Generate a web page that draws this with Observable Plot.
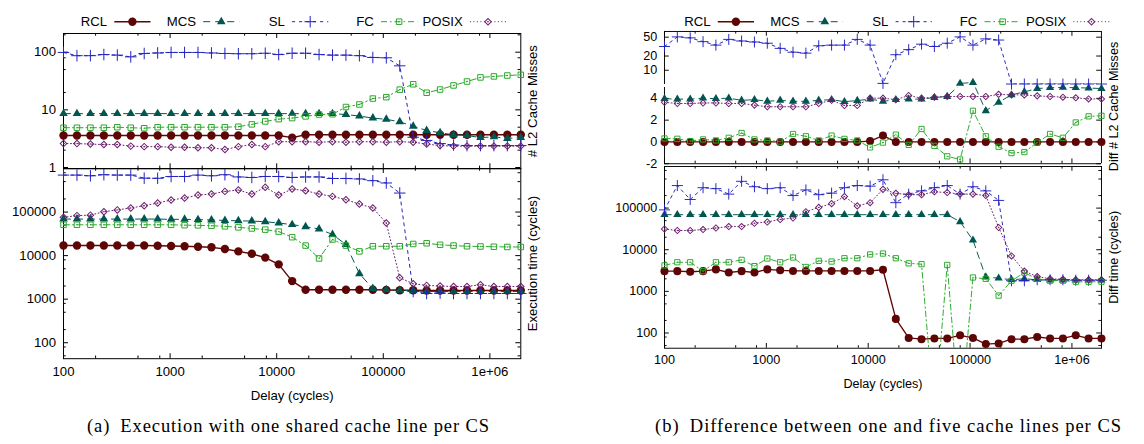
<!DOCTYPE html>
<html>
<head>
<meta charset="utf-8">
<script src="https://cdn.jsdelivr.net/npm/d3@7"></script>
<script src="https://cdn.jsdelivr.net/npm/@observablehq/plot@0.6"></script>
<style>
  html, body { margin: 0; padding: 0; background: #fff; }
  #root { position: relative; width: 1144px; height: 444px; overflow: hidden; background: #fff;
          font-family: "Liberation Sans", Arial, Helvetica, sans-serif; }
  .panel { position: absolute; }
  .panel svg { overflow: visible; display: block; }
  #overlay { position: absolute; left: 0; top: 0; }
</style>
</head>
<body>
<div id="root"></div>
<script>
// ------------------------------------------------------------------ data
const delays = [100, 133.7, 178.8, 239.1, 319.7, 427.5, 571.5, 764.1, 1022, 1367, 1827, 2444, 3268, 4370, 5843, 7809,
  10442, 13964, 18671, 24966, 33384, 44637, 59689, 79799, 106710, 142690, 190800, 255150, 341200, 456200, 610100,
  815700, 1090500, 1458100, 1949800];

const seriesNames = ["RCL", "MCS", "SL", "FC", "POSIX"];

// (a) top: # L2 cache misses
const rclMisses = [3.6,3.6,3.6,3.6,3.6,3.6,3.6,3.6,3.6,3.6,3.6,3.6,3.6,3.6,3.6,3.6,3.6,3.3,3.7,3.7,3.7,3.7,3.7,3.7,3.7,3.7,3.7,3.7,3.7,3.7,3.7,3.7,3.7,3.7,3.7];
const mcsMisses = [8.6,8.6,8.6,8.6,8.6,8.6,8.6,8.6,8.6,8.6,8.6,8.6,8.6,8.6,8.6,8.6,8.6,8.6,8.6,8.6,8.6,8.3,7.8,7.2,6.85,6.2,5.2,4.4,4.0,3.7,3.6,3.3,3.4,3.2,3.3];
const slMisses = [99,87,87,91,89,83,95,97,99,99,99,97,95,94,94,96,91,96,96,91,89,89,87,81,80,58,3.35,2.95,2.6,2.45,2.4,2.4,2.4,2.4,2.4];
const fcMisses = [4.9,4.9,4.9,4.9,5.0,4.9,4.8,5.0,5.0,5.0,5.0,5.0,5.0,5.1,5.6,6.3,6.9,7.2,7.7,8.3,8.4,11.2,12.4,15.7,16.6,22.4,27.8,19.8,22.5,26.5,31,36.5,38,39.4,40.5];
const posixMisses = [2.6,2.6,2.55,2.5,2.5,2.35,2.3,2.3,2.25,2.25,2.2,2.2,2.05,2.3,2.5,2.3,2.8,2.8,2.8,2.75,2.8,2.75,2.8,2.8,2.75,2.8,2.75,2.55,2.4,2.35,2.35,2.35,2.35,2.35,2.35];

// (a) bottom: execution time (cycles)
const rclTime = [17000,17000,17000,17000,17000,17000,17000,16800,16600,16400,16000,15500,14200,12500,11000,9000,6300,2600,1650,1650,1650,1650,1650,1650,1620,1600,1600,1580,1580,1580,1580,1580,1580,1580,1580];
const mcsTime = [69000,69000,69000,69000,69000,69000,69000,69000,68000,68000,67000,66000,64000,63000,62000,60000,56000,51500,46000,41000,30500,18000,3850,1750,1650,1600,1550,1500,1500,1500,1500,1500,1500,1500,1500];
const slTime = [706000,706000,680000,720000,706000,706000,600000,596000,656000,656000,706000,680000,720000,640000,622000,656000,656000,622000,640000,640000,590000,590000,575000,525000,465000,273000,1500,1350,1380,1350,1350,1350,1350,1350,1350];
const fcTime = [51000,51000,51000,51000,51000,51000,51000,51000,51000,50000,49500,48500,47000,44500,42000,39500,35600,26500,17000,8600,23500,17000,12500,16400,16400,16400,18500,19200,17700,17000,16400,16200,16000,15800,15800];
const posixTime = [75700,82800,85000,102000,112000,124000,140000,161000,189000,210000,246000,259000,298000,320000,259000,370000,246000,337000,309000,259000,229000,192000,153000,124000,56000,3100,2260,2070,2000,1950,1950,2150,1950,1950,1950];

// (b) top: diff # L2 cache misses
const rclDiffMisses = [0,0,0,0,0,0,0,0,0,0,0,0,0,0,0,0,0.08,0.58,0,0,0,0,0,0,0,0,0,0,0,0,0,0,0,0,0];
const mcsDiffMisses = [3.97,3.93,3.93,4.02,3.97,4.02,3.82,3.88,3.73,3.82,3.73,3.73,3.82,3.88,3.7,3.8,3.93,3.73,3.88,3.93,3.93,4.08,4.17,5.28,5.5,2.86,3.64,4.32,4.6,4.9,4.98,5.0,4.98,4.95,4.9];
const slDiffMisses = [31.8,50.7,48.4,40.2,34,44.9,41.5,39.6,37.3,29,24.1,23,32.9,34,34,44.9,34,5.28,21.3,27.3,35.6,31.8,37.3,50.7,34,46,43.5,5.12,5.12,5.12,5.12,5.12,5.12,5.12,5.12];
const fcDiffMisses = [0.32,0.29,0.08,0.23,0.14,0.38,0.82,0.23,0.14,0.03,0.73,0.52,0.14,0.58,0.28,0.14,-0.5,-0.06,0.67,-0.27,1.19,-0.36,-1.32,-1.61,2.86,0.52,-0.44,-1.02,-0.93,-0.06,0.73,0.38,1.79,2.35,2.4];
const posixDiffMisses = [3.64,3.53,3.53,3.58,3.58,3.53,3.53,3.38,3.23,3.23,3.23,3.23,3.53,3.82,3.35,3.35,4.02,4.02,3.88,4.26,4.02,4.11,4.17,4.17,4.17,4.17,4.37,4.32,4.32,4.23,4.17,4.11,4.05,3.95,3.95];

// (b) bottom: diff time (cycles)
const rclDiffTime = [3060,3060,2950,3060,3370,2840,3060,2840,3370,3200,3100,3100,3100,3100,3100,3100,3100,3300,218,76,71,74,74,88,76,54,56,71,71,80,74,74,88,74,74];
const mcsDiffTime = [69500,69500,69500,69500,69500,69500,69500,69500,69500,69500,69500,69500,69500,69500,69500,69500,69500,69500,69500,69500,69500,69500,69500,47000,17000,2200,2070,1900,2000,1900,1850,1850,1850,1850,1850];
const slDiffTime = [90600,348000,161000,309000,293000,217000,440000,326000,293000,309000,200000,273000,210000,229000,309000,348000,337000,479000,135000,217000,259000,309000,348000,217000,326000,259000,153000,1800,1800,1900,1900,1900,1850,1850,1850];
const fcDiffTime = [4200,5000,5000,3060,5000,5000,5700,4040,6150,5000,6500,3850,5400,5200,6250,6250,7700,8100,6250,4700,4500,1,4300,0.7,2150,2000,790,1800,2800,2000,1800,1800,1700,1700,1700];
const posixDiffTime = [31500,29000,29000,30500,33200,36000,36000,43400,46500,53300,57800,82000,104000,128000,189000,113000,135000,282000,226000,210000,210000,246000,237000,217000,217000,200000,34300,7100,3060,2260,2000,1950,1900,1900,1900];

// ticks
const xMajor = [100, 1000, 10000, 100000, 1000000];
const xLabels = ["100", "1000", "10000", "100000", "1e+06"];
const xMinor = [200, 500, 800, 2000, 5000, 8000, 20000, 50000, 80000, 200000, 500000, 800000];
const missMajor = [1, 10, 100];
const missLabels = ["1", "10", "100"];
const missMinor = [2, 5, 8, 20, 50, 80, 200];
const timeMajor = [100, 1000, 10000, 100000];
const timeLabels = ["100", "1000", "10000", "100000"];
const timeMinor = [50, 80, 200, 500, 800, 2000, 5000, 8000, 20000, 50000, 80000, 200000, 500000, 800000];
const diffLinTicks = [-2, 0, 2, 4];
const diffLinLabels = ["-2", "0", "2", "4"];
const diffLogTicks = [10, 20, 50];
const diffLogLabels = ["10", "20", "50"];

// ------------------------------------------------------------------ styles
const FONT = '"Liberation Sans", Arial, Helvetica, sans-serif';
const FS = 13.2;
const seriesStyles = {
  RCL:   {color: "#5e0505", dash: null,        symbol: "circle",   r: 4.2, filled: true,  width: 1.4},
  MCS:   {color: "#00574f", dash: "7,5",       symbol: "triangle", r: 3.2, filled: true,  width: 1},
  SL:    {color: "#2222bf", dash: "3,4",       symbol: "plus",     r: 3.8, filled: false, width: 1},
  FC:    {color: "#28a828", dash: "6,3,1.5,3", symbol: "square",   r: 3.1, filled: false, width: 1, center: true},
  POSIX: {color: "#6c1f6c", dash: "1,2.5",     symbol: "square",   r: 2.6, filled: false, width: 1, center: true, rotate: 45}
};

const M = 45;
const root = document.getElementById("root");
const xDomain = [100, 1949800];

function seriesMarks(values, names, dotOk) {
  const marks = [];
  for (const name of names) {
    const s = seriesStyles[name];
    const rows = delays.map((x, i) => ({x, v: values[name][i]}));
    marks.push(Plot.line(rows, {x: "x", y: "v", stroke: s.color, strokeWidth: s.width,
      strokeDasharray: s.dash || undefined, clip: true}));
    const pts = rows.filter(d => dotOk(d.v));
    marks.push(Plot.dot(pts, {x: "x", y: "v", symbol: s.symbol, r: s.r, rotate: s.rotate || 0,
      fill: s.filled ? s.color : "none", stroke: s.filled ? "none" : s.color, strokeWidth: 1}));
    if (s.center) marks.push(Plot.dot(pts, {x: "x", y: "v", r: 0.7, fill: s.color, stroke: "none"}));
  }
  return marks;
}

function xTicks(h, where) {
  const key = where === "bottom" ? "insetTop" : "insetBottom";
  return [
    Plot.tickX(xMajor, {x: d => d, [key]: h - 5, stroke: "#000"}),
    Plot.tickX(xMinor, {x: d => d, [key]: h - 2.7, stroke: "#000"})
  ];
}
function yTicks(w, vals, len) {
  return [
    Plot.tickY(vals, {y: d => d, insetRight: w - len, stroke: "#000"}),
    Plot.tickY(vals, {y: d => d, insetLeft: w - len, stroke: "#000"})
  ];
}
function yLabelMarks(vals, labels) {
  return Plot.text(vals, {y: d => d, text: (d, i) => labels[i], frameAnchor: "left", textAnchor: "end",
    dx: -7.5, fontSize: FS, fill: "#000"});
}
function xLabelMarks() {
  return [
    Plot.text(xMajor, {x: d => d, text: (d, i) => xLabels[i], frameAnchor: "bottom", dy: 17, fontSize: FS, fill: "#000"}),
    Plot.text(["Delay (cycles)"], {text: d => d, frameAnchor: "bottom", dy: 41.5, fontSize: FS, fill: "#000"})
  ];
}
function sideLabel(label, dx, dy) {
  return Plot.text([label], {text: d => d, frameAnchor: "right", textAnchor: "middle", lineAnchor: "middle",
    rotate: -90, dx, dy: dy || 0, fontSize: FS, fill: "#000"});
}

function plotPanel({left, top, w, h, y, marks}) {
  const svg = Plot.plot({
    width: w + 2 * M, height: h + 2 * M, margin: M,
    x: {type: "log", domain: xDomain, axis: null},
    y: {...y, axis: null},
    style: {background: "transparent", overflow: "visible", fontFamily: FONT, color: "#000"},
    marks
  });
  const div = document.createElement("div");
  div.className = "panel";
  div.style.left = (left - M) + "px";
  div.style.top = (top - M) + "px";
  div.appendChild(svg);
  root.appendChild(div);
}

// ------------------------------------------------------------------ geometry
const W = 457.3;
const TOP = 33, MID = 168.3, BOT = 358.5, SPLIT = 88.5;
const LEFT_A = 62.5, LEFT_B = 666;
const hTop = MID - TOP, hBot = BOT - MID;

// ---- (a) top
{
  const vals = {RCL: rclMisses, MCS: mcsMisses, SL: slMisses, FC: fcMisses, POSIX: posixMisses};
  const dom = [0.95, 211];
  plotPanel({left: LEFT_A, top: TOP, w: W, h: hTop, y: {type: "log", domain: dom},
    marks: [
      Plot.frame({stroke: "#000"}),
      ...xTicks(hTop, "bottom"), ...xTicks(hTop, "top"),
      ...yTicks(W, missMajor, 5), ...yTicks(W, missMinor, 2.7),
      yLabelMarks(missMajor, missLabels),
      sideLabel("# L2 Cache Misses", 12),
      ...seriesMarks(vals, seriesNames, v => v >= dom[0] && v <= dom[1])
    ]});
}
// ---- (a) bottom
{
  const vals = {RCL: rclTime, MCS: mcsTime, SL: slTime, FC: fcTime, POSIX: posixTime};
  const dom = [43, 1000000];
  plotPanel({left: LEFT_A, top: MID, w: W, h: hBot, y: {type: "log", domain: dom},
    marks: [
      Plot.frame({stroke: "#000"}),
      ...xTicks(hBot, "bottom"), ...xTicks(hBot, "top"),
      ...yTicks(W, timeMajor, 5), ...yTicks(W, timeMinor, 2.7),
      yLabelMarks(timeMajor, timeLabels),
      ...xLabelMarks(),
      sideLabel("Execution time (cycles)", 12),
      ...seriesMarks(vals, seriesNames, v => v >= dom[0] && v <= dom[1])
    ]});
}
// ---- (b) top, lower linear part
{
  const vals = {RCL: rclDiffMisses, MCS: mcsDiffMisses, SL: slDiffMisses, FC: fcDiffMisses, POSIX: posixDiffMisses};
  const h = MID - SPLIT;
  plotPanel({left: LEFT_B, top: SPLIT, w: W, h, y: {type: "linear", domain: [-2, 5]},
    marks: [
      Plot.ruleY([-2], {stroke: "#000"}),
      Plot.ruleX([xDomain[0], xDomain[1]], {stroke: "#000"}),
      ...xTicks(h, "bottom"),
      ...yTicks(W, diffLinTicks, 5),
      yLabelMarks(diffLinTicks, diffLinLabels),
      sideLabel("Diff # L2 Cache Misses", 13.5, -20),
      ...seriesMarks(vals, seriesNames, v => v >= -2 && v <= 5)
    ]});
}
// ---- (b) top, upper log part
{
  const vals = {MCS: mcsDiffMisses, SL: slDiffMisses};
  const h = SPLIT - TOP;
  plotPanel({left: LEFT_B, top: TOP, w: W, h, y: {type: "log", domain: [5, 66]},
    marks: [
      Plot.ruleY([66], {stroke: "#000"}),
      Plot.ruleX([xDomain[0], xDomain[1]], {stroke: "#000"}),
      ...xTicks(h, "top"),
      ...yTicks(W, diffLogTicks, 5),
      yLabelMarks(diffLogTicks, diffLogLabels),
      ...seriesMarks(vals, ["MCS", "SL"], v => v > 5 && v <= 66)
    ]});
}
// ---- (b) bottom
{
  const vals = {RCL: rclDiffTime, MCS: mcsDiffTime, SL: slDiffTime, FC: fcDiffTime, POSIX: posixDiffTime};
  const dom = [43, 1000000];
  plotPanel({left: LEFT_B, top: MID, w: W, h: hBot, y: {type: "log", domain: dom},
    marks: [
      Plot.frame({stroke: "#000"}),
      ...xTicks(hBot, "bottom"), ...xTicks(hBot, "top"),
      ...yTicks(W, timeMajor, 5), ...yTicks(W, timeMinor, 2.7),
      yLabelMarks(timeMajor, timeLabels),
      ...xLabelMarks(),
      sideLabel("Diff time (cycles)", 13.5),
      ...seriesMarks(vals, seriesNames, v => v >= dom[0] && v <= dom[1])
    ]});
}

// ------------------------------------------------------------------ legends and captions
const overlay = d3.select(root).insert("svg", ":first-child").attr("id", "overlay")
  .attr("width", 1144).attr("height", 444);
const symbolTypes = {circle: d3.symbolCircle, triangle: d3.symbolTriangle, plus: d3.symbolPlus, square: d3.symbolSquare};
for (const L of [LEFT_A, LEFT_B]) {
  const g = overlay.append("g");
  seriesNames.forEach((name, i) => {
    const s = seriesStyles[name];
    const end = L + 44.6 + 88.9 * i;
    const x1 = end + 7.2, x2 = end + 43.4, cy = 21.7;
    g.append("text").attr("x", end).attr("y", cy).attr("dy", "0.35em").attr("text-anchor", "end")
      .attr("font-family", FONT).attr("font-size", FS).attr("fill", "#000").text(name);
    g.append("line").attr("x1", x1).attr("x2", x2).attr("y1", cy).attr("y2", cy)
      .attr("stroke", s.color).attr("stroke-width", s.width)
      .attr("stroke-dasharray", s.dash || null);
    const path = d3.symbol(symbolTypes[s.symbol], Math.PI * s.r * s.r)();
    g.append("path").attr("d", path)
      .attr("transform", `translate(${(x1 + x2) / 2},${cy}) rotate(${s.rotate || 0})`)
      .attr("fill", s.filled ? s.color : "none").attr("stroke", s.filled ? "none" : s.color);
    if (s.center) g.append("circle").attr("cx", (x1 + x2) / 2).attr("cy", cy).attr("r", 0.7).attr("fill", s.color);
  });
}
const captions = [
  {text: "(a)\u2002Execution with one shared cache line per CS", x: 87, len: 402},
  {text: "(b)\u2002Difference between one and five cache lines per CS", x: 655, len: 466}
];
for (const c of captions) {
  overlay.append("text").attr("x", c.x).attr("y", 431.7)
    .attr("font-family", '"Liberation Serif", "Times New Roman", serif').attr("font-size", 18.5)
    .attr("textLength", c.len).attr("lengthAdjust", "spacing").attr("fill", "#000").text(c.text);
}
</script>
</body>
</html>
